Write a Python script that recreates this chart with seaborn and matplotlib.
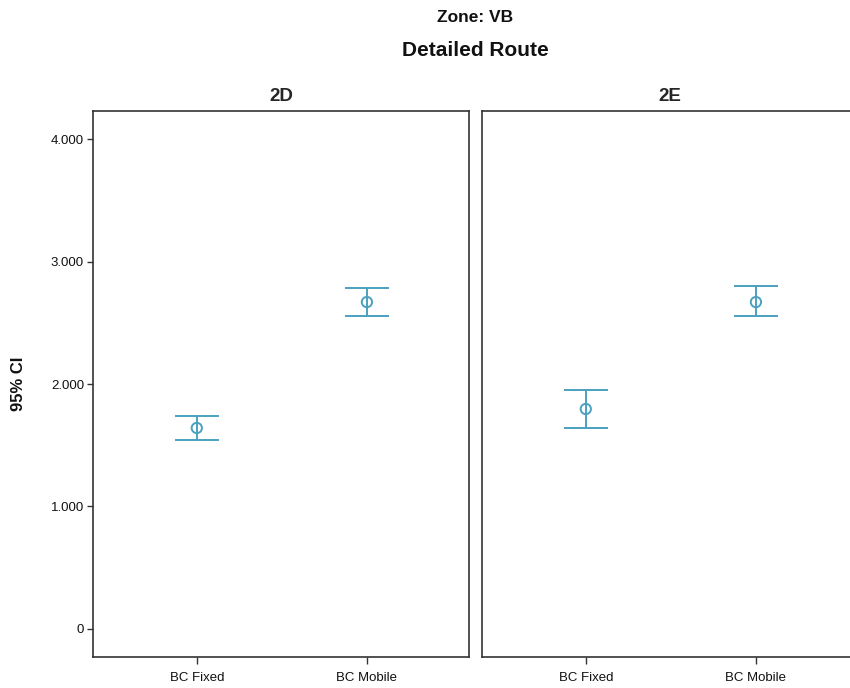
import pandas as pd
import matplotlib.pyplot as plt
import seaborn as sns

# Values (95% CI of the mean)
categories = ['BC Fixed', 'BC Mobile']
routes = ['2D', '2E']
means_2d = [1.641, 2.669]
lower_2d = [1.543, 2.555]
upper_2d = [1.739, 2.784]
means_2e = [1.796, 2.669]
lower_2e = [1.641, 2.555]
upper_2e = [1.951, 2.800]
y_ticks = [0, 1, 2, 3, 4]
y_tick_labels = ['0', '1.000', '2.000', '3.000', '4.000']

sns.set_theme(style="white")
plt.rcParams['font.family'] = ['Liberation Sans', 'DejaVu Sans']

color = '#4ba0bf'
edge = '#333333'

df = pd.DataFrame({
    'route': [r for r in routes for _ in categories],
    'category': categories * len(routes),
    'mean': means_2d + means_2e,
    'lower': lower_2d + lower_2e,
    'upper': upper_2d + upper_2e,
})

fig = plt.figure(figsize=(8.5, 6.88), dpi=100)
ax_left = fig.add_axes([93 / 850, 1 - 657 / 688, 376 / 850, 546 / 688])
ax_right = fig.add_axes([482 / 850, 1 - 657 / 688, 376 / 850, 546 / 688])

for ax, route in zip([ax_left, ax_right], routes):
    sub = df[df['route'] == route]
    ax.errorbar(range(len(sub)), sub['mean'],
                yerr=[sub['mean'] - sub['lower'], sub['upper'] - sub['mean']],
                fmt='none', ecolor=color, elinewidth=1.4, capsize=15.5,
                capthick=1.4, zorder=2)
    sns.scatterplot(data=sub, x='category', y='mean', ax=ax, marker='o',
                    s=55, facecolors='none', edgecolor=color, linewidth=1.4,
                    zorder=3, legend=False)
    ax.set_xlim(-0.61, 1.6)
    ax.set_ylim(-0.229, 4.229)
    ax.set_xlabel('')
    ax.set_title(route, fontsize=13.5, fontweight='bold', pad=7)
    for s in ax.spines.values():
        s.set_color(edge)
        s.set_linewidth(1.2)
    ax.tick_params(axis='x', bottom=True, length=5, width=1, color=edge,
                   labelsize=9.5, labelcolor='#111111', pad=6)
    ax.grid(False)

ax_left.set_yticks(y_ticks)
ax_left.set_yticklabels(y_tick_labels)
ax_left.tick_params(axis='y', left=True, length=4.5, width=1, color=edge,
                    labelsize=9.5, labelcolor='#111111', pad=2)
ax_left.set_ylabel('95% CI', fontsize=12, fontweight='bold', color='#111111')
ax_left.yaxis.set_label_coords(-0.178, 0.5)

ax_right.set_yticks(y_ticks)
ax_right.tick_params(axis='y', left=False, labelleft=False)
ax_right.set_ylabel('')

fig.text(475 / 850, 1 - 17 / 688, 'Zone: VB', ha='center', va='center',
         fontsize=12.5, fontweight='bold', color='#111111')
fig.text(475 / 850, 1 - 51 / 688, 'Detailed Route', ha='center', va='center',
         fontsize=15, fontweight='bold', color='#111111')

fig.savefig('out.png', dpi=100)
